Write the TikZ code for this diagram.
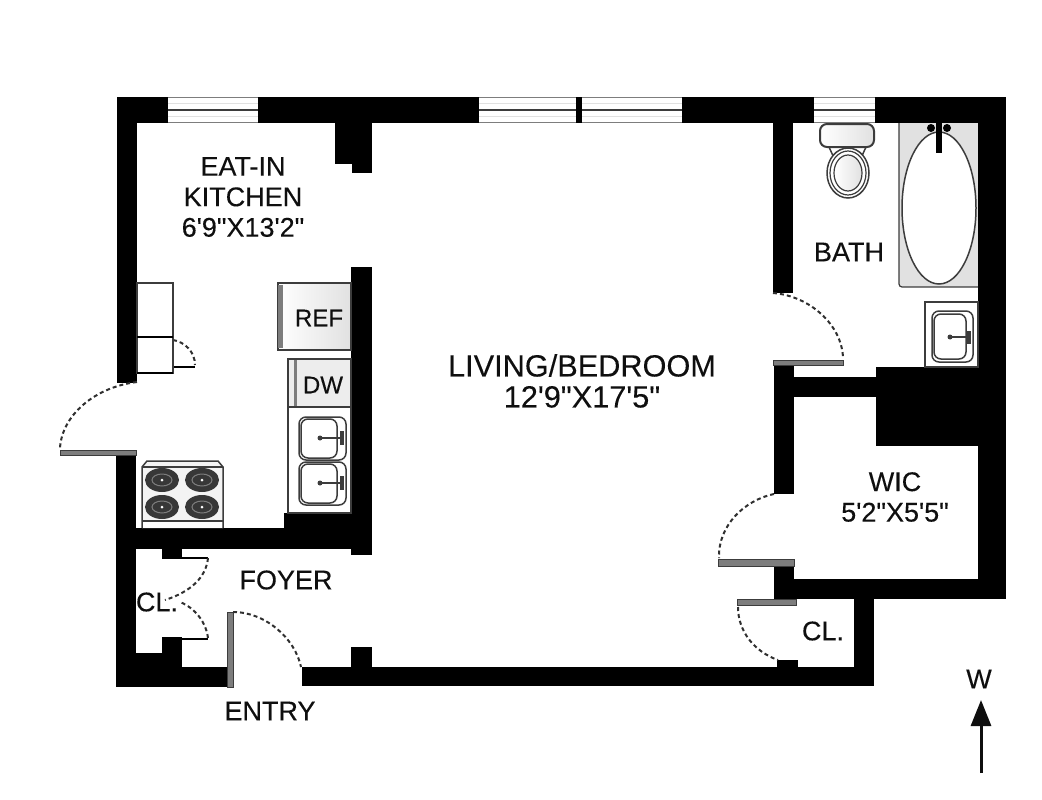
\documentclass[tikz,border=0pt]{standalone}
\usepackage{xcolor}
\usepackage{fontspec}
\usepackage{tikz}
\newfontfamily\planfont{Liberation Sans}[FakeBold=0.2]
\definecolor{leaf}{RGB}{125,125,125}
\definecolor{fixture}{RGB}{60,60,60}
\definecolor{tubgrey}{RGB}{225,225,225}
\definecolor{burner}{RGB}{55,55,55}
\definecolor{ink}{RGB}{15,15,15}
\usetikzlibrary{arrows.meta}
\tikzset{
    doorswing/.style={draw=fixture!80!black, line width=2pt, dash pattern=on 4pt off 3pt},
    doorleaf/.style={fill=leaf, draw=fixture, line width=0.8pt},
    unitbox/.style={draw=fixture, line width=1.5pt, fill=white},
    roomlabel/.style={text=ink, align=center, inner sep=0pt, font=\planfont\fontsize{27}{30.5}\selectfont},
    biglabel/.style={roomlabel, font=\planfont\fontsize{30.7}{31}\selectfont},
    smalllabel/.style={roomlabel, font=\planfont\fontsize{24}{26}\selectfont},
    basin/.style={draw=fixture, line width=1.5pt, rounded corners=7pt}
}

\begin{document}
\begin{tikzpicture}[x=1pt,y=-1pt]
    \useasboundingbox (0,0) rectangle (1042,800);
    % Walls
    \foreach \xa/\ya/\xb/\yb in {117/97/1006/123, 117/97/137/383, 116/454/136/687, 335/123/372/164, 352/164/372/173,
        351/267/372/555, 116/528/372/549, 284/513/351/549, 162/549/182/558, 162/637/182/687, 116/653/162/687,
        182/667/228/687, 302/667/873/686, 351/647/372/667, 777/660/798/667, 854/599/874/686, 774/579/1006/599,
        774/565/794/599, 773/123/793/293, 774/363/794/494, 794/377/876/397, 876/367/978/446, 978/97/1006/599} {
        \fill[black] (\xa,\ya) rectangle (\xb,\yb);
    }
    % Windows
    \foreach \xa/\xb in {168/258, 479/576, 582/682, 814/875} {
        \fill[white] (\xa,97) rectangle (\xb,123);
        \draw[fixture, line width=2pt] (\xa,109.5) -- (\xb,109.5);
        \draw[leaf, line width=1.5pt] (\xa,97.5) -- (\xb,97.5) (\xa,122.5) -- (\xb,122.5);
        \draw[tubgrey, line width=1pt] (\xa,103) -- (\xb,103) (\xa,116) -- (\xb,116);
    }
    % Door leaves
    \foreach \xa/\ya/\xb/\yb in {60/450/136/455, 773/360/843/365, 718/559/794/566, 737/599/796/605, 227/612/233/687} {
        \filldraw[doorleaf] (\xa,\ya) rectangle (\xb,\yb);
    }
    \draw[black, line width=1.8pt] (162,558) -- (208,558) (182,639) -- (208,639) (173,367) -- (195,367);
    % Door swings
    \draw[doorswing] (137,382) .. controls (95,387) and (62,415) .. (60,448);
    \draw[doorswing] (773,293) .. controls (810,296) and (842,325) .. (843,358);
    \draw[doorswing] (774,494) .. controls (745,500) and (718,525) .. (719,558);
    \draw[doorswing] (738,607) .. controls (738,632) and (755,652) .. (778,660);
    \draw[doorswing] (233,612) .. controls (265,612) and (295,638) .. (301,667);
    \draw[doorswing] (208,558) .. controls (206,578) and (190,592) .. (165,600);
    \draw[doorswing] (208,638) .. controls (206,622) and (195,608) .. (180,602);
    \draw[doorswing] (173,340) .. controls (185,342) and (195,352) .. (195,365);
    % Kitchen counter on the left
    \draw[unitbox, line width=1.2pt] (137,283) rectangle (173,373);
    \draw[black, line width=2pt] (137,337) -- (173,337) (137,373) -- (173,373);
    % Refrigerator
    \draw[unitbox, left color=white, right color=tubgrey] (278,283) rectangle (351,350);
    \fill[leaf] (278,285) rectangle (283,348);
    % Dishwasher
    \draw[unitbox, fill=tubgrey!60] (288,359) rectangle (351,407);
    \fill[leaf] (294,360) rectangle (297,406);
    % Sinks
    \draw[unitbox] (288,407) rectangle (351,513);
    \foreach \y in {417,462} {
        \draw[basin] (299,\y) rectangle (346,\y+43);
        \draw[basin] (301,\y+2) rectangle (337,\y+41);
        \draw[fixture, line width=1.5pt] (320,\y+21) -- (343,\y+21);
        \fill[fixture] (320,\y+21) circle (2.5);
        \fill[fixture] (340,\y+14) rectangle (344,\y+28);
    }
    % Stove
    \draw[unitbox, fill=tubgrey!40] (142,528) -- (142,467) -- (147,461) -- (218,461) -- (223,467) -- (223,528);
    \draw[fixture, line width=1.5pt] (142,467) -- (223,467);
    \fill[white] (143,521) rectangle (222,528);
    \draw[fixture, line width=1.8pt] (142,521) -- (223,521);
    \foreach \x/\y in {162/480, 202/480, 162/507, 202/507} {
        \fill[burner] (\x,\y) ellipse (17 and 12);
        \draw[leaf, line width=1pt] (\x,\y) ellipse (10 and 6);
        \fill[white] (\x,\y) circle (1.5);
    }
    % Toilet
    \draw[fixture, line width=1.5pt] (829,147) -- (834,158) (866,147) -- (861,158);
    \draw[basin, line width=2pt, left color=white, right color=tubgrey] (820,124) rectangle (874,147);
    \draw[fixture, line width=1.5pt, fill=white] (848,173) ellipse (21 and 25);
    \draw[fixture, line width=1.2pt] (848,173) ellipse (18 and 22);
    \draw[fixture, line width=1.2pt, left color=white, right color=tubgrey] (848,173) ellipse (14 and 18);
    % Tub
    \fill[tubgrey] (899,123) rectangle (978,287);
    \draw[fixture, line width=1.2pt, rounded corners=3pt] (899,123) -- (899,287) -- (978,287);
    \draw[fixture, line width=1.5pt, fill=white] (939,208) ellipse (37 and 76);
    \fill[black] (931,128) circle (4) (947,128) circle (4);
    \fill[black] (936,123) rectangle (942,153);
    % Bath sink
    \draw[unitbox] (925,302) rectangle (978,367);
    \draw[basin] (932,311) rectangle (973,362);
    \draw[basin] (934,314) rectangle (966,359);
    \draw[fixture, line width=1.5pt] (950,337) -- (970,337);
    \fill[fixture] (950,337) circle (2.5);
    \fill[fixture] (967,331) rectangle (971,344);
    % Labels
    \node[roomlabel] (kitchen) at (243,197) {EAT-IN\\KITCHEN\\6'9"X13'2"};
    \node[biglabel] (living) at (582,381) {LIVING/BEDROOM\\12'9"X17'5"};
    \node[roomlabel] (bath) at (849,252) {BATH};
    \node[roomlabel] (wic) at (895,497) {WIC\\5'2"X5'5"};
    \node[roomlabel] (foyer) at (286,580) {FOYER};
    \node[roomlabel] (entry) at (270,711) {ENTRY};
    \node[roomlabel] (closeta) at (157,602) {CL.};
    \node[roomlabel] (closetb) at (823,631) {CL.};
    \node[smalllabel] (ref) at (319,318) {REF};
    \node[smalllabel] (dw) at (323,385) {DW};
    \node[roomlabel] (west) at (979,679) {W};
    % North arrow
    \coordinate (arrowfoot) at (981,773);
    \coordinate (arrowhead) at (981,700);
    \draw[-{Triangle[length=26pt,width=20pt]}, ink, line width=3pt] (arrowfoot) -- (arrowhead);
\end{tikzpicture}
\end{document}
